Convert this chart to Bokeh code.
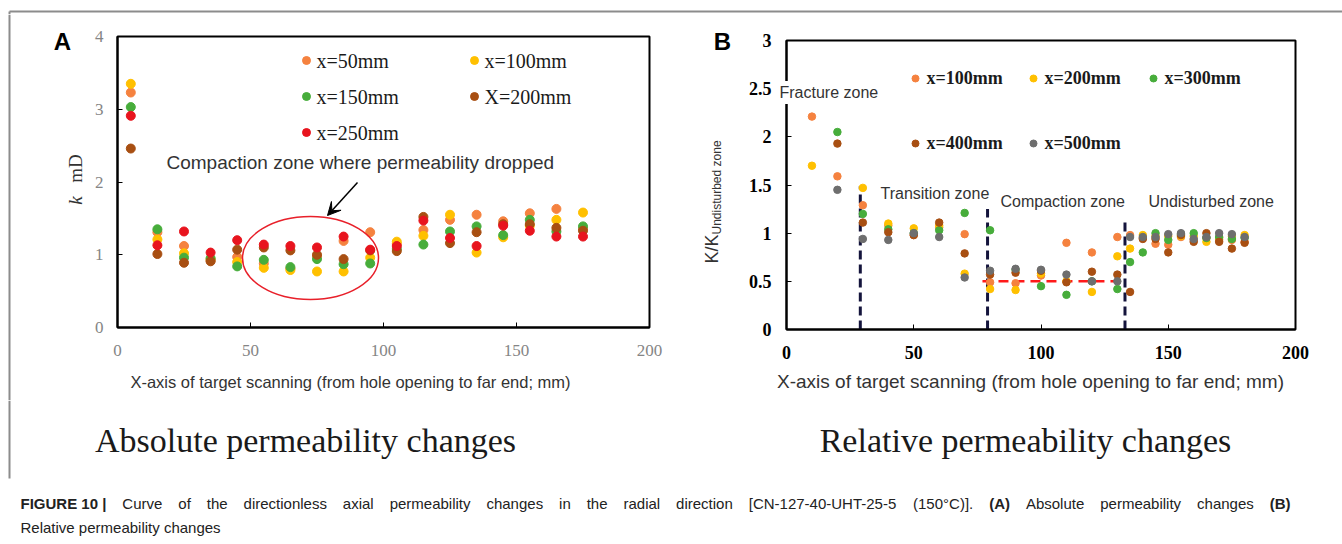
import numpy as np
from math import pi
from bokeh.plotting import figure
from bokeh.layouts import column, row
from bokeh.models import Range1d, FixedTicker, Label, Arrow, VeeHead, NumeralTickFormatter
from bokeh.core.properties import value
from bokeh.embed import file_html
from bokeh.resources import INLINE

# ---------------- data: panel A (absolute permeability, mD) ----------------
xa = [5, 15, 25, 35, 45, 55, 65, 75, 85, 95, 105, 115, 125, 135, 145, 155, 165, 175]
ka_50 = [3.23, 1.31, 1.12, 0.92, 0.97, 0.88, 0.81, 0.98, 1.19, 1.31, 1.15, 1.34, 1.48, 1.55, 1.46, 1.57, 1.63, 1.36]
ka_100 = [3.35, 1.21, 1.02, 0.94, 0.90, 0.82, 0.79, 0.77, 0.77, 0.96, 1.18, 1.26, 1.55, 1.03, 1.24, 1.40, 1.48, 1.58]
ka_150 = [3.03, 1.35, 0.96, 0.95, 0.84, 0.93, 0.83, 0.94, 0.87, 0.88, 1.08, 1.14, 1.32, 1.39, 1.27, 1.48, 1.32, 1.39]
ka_200 = [2.46, 1.01, 0.89, 0.91, 1.07, 1.10, 1.06, 1.00, 0.94, 1.06, 1.05, 1.52, 1.16, 1.31, 1.42, 1.42, 1.37, 1.33]
ka_250 = [2.91, 1.13, 1.32, 1.03, 1.20, 1.14, 1.12, 1.10, 1.25, 1.07, 1.12, 1.47, 1.23, 1.12, 1.40, 1.33, 1.25, 1.25]
labels_a = ["x=50mm", "x=100mm", "x=150mm", "X=200mm", "x=250mm"]

# ---------------- data: panel B (relative permeability) ----------------
xb = [10, 20, 30, 40, 50, 60, 70, 80, 90, 100, 110, 120, 130, 135, 140, 145, 150, 155, 160, 165, 170, 175, 180]
kb_100 = [2.21, 1.59, 1.29, 1.08, 0.98, 1.06, 0.99, 0.49, 0.48, 0.56, 0.90, 0.80, 0.96, 0.98, 0.95, 0.89, 0.88, 0.96, 0.93, 0.95, 0.93, 0.93, 0.91]
kb_200 = [1.70, None, 1.47, 1.10, 1.05, 1.08, 0.58, 0.42, 0.41, 0.58, 0.50, 0.39, 0.76, 0.84, 0.98, 0.97, 0.97, 0.97, 0.97, 0.91, 0.95, 0.97, 0.98]
kb_300 = [None, 2.05, 1.20, 1.04, 1.00, 1.03, 1.21, 1.03, 0.62, 0.45, 0.36, 0.50, 0.42, 0.70, 0.80, 1.00, 0.93, 0.99, 1.00, 0.95, 0.96, 0.94, 0.95]
kb_400 = [None, 1.93, 1.11, 1.01, 0.98, 1.11, 0.79, 0.57, 0.59, 0.61, 0.49, 0.60, 0.57, 0.39, 0.94, 0.94, 0.80, 0.98, 0.91, 1.00, 0.91, 0.84, 0.90]
kb_500 = [None, 1.45, 0.94, 0.93, 1.00, 0.96, 0.54, 0.61, 0.63, 0.62, 0.57, 0.50, 0.50, 0.96, 0.96, 0.96, 0.99, 1.00, 0.94, 0.96, 1.00, 0.99, 0.96]
labels_b = ["x=100mm", "x=200mm", "x=300mm", "x=400mm", "x=500mm"]
zone_x = [29, 79, 133]
zone_top = [1.49, 1.25, 1.15]
compaction_x = [77, 131]
compaction_y = [0.5, 0.5]
zone_names = ["Transition zone", "Compaction zone", "Undisturbed zone"]

caption_line1 = [("FIGURE 10 |", True), ("Curve", False), ("of", False), ("the", False),
                 ("directionless", False), ("axial", False), ("permeability", False), ("changes", False),
                 ("in", False), ("the", False), ("radial", False), ("direction", False),
                 ("[CN-127-40-UHT-25-5", False), ("(150°C)].", False), ("(A)", True), ("Absolute", False),
                 ("permeability", False), ("changes", False), ("(B)", True)]
caption_line2 = "Relative permeability changes"

ORANGE, YELLOW, GREEN, BROWN, RED, GRAY = "#F5823F", "#FFC000", "#47AD3B", "#A84F12", "#E8141E", "#6E6E6E"
LINE_GRAY = "#8c8c8c"
SANS, SERIF = "Liberation Sans", "Liberation Serif"

def arr(v):
    return np.array(v, dtype=float)

# pixel -> data helpers (layout only)
def ax_(px): return (px - 117) / 2.66
def ay_(py): return (327 - py) / 72.75
def bx_(px): return (px - 786) / 2.545
def by_(py): return (329 - py) / 96.33

# Arial advance widths (1/1000 em) used to justify the caption line
AW = {' ': 278, '(': 333, ')': 333, '-': 333, '.': 278, '[': 278, ']': 278, '°': 400, '|': 260}
for c in "0123456789":
    AW[c] = 556
AW.update(dict(zip("ABCDEFGHIJKLMNOPQRSTUVWXYZ",
                   [667, 667, 722, 722, 667, 611, 778, 722, 278, 500, 667, 556, 833, 722, 778, 667, 778, 722, 667, 611, 722, 667, 944, 667, 667, 611])))
AW.update(dict(zip("abcdefghijklmnopqrstuvwxyz",
                   [556, 556, 500, 556, 556, 278, 556, 556, 222, 222, 500, 222, 833, 556, 556, 556, 556, 333, 500, 278, 556, 500, 722, 500, 500, 500])))
AWB = dict(AW)
AWB.update({'A': 722, 'B': 722, 'F': 611, 'G': 778, 'I': 278, 'U': 722, 'R': 722, 'E': 667, '|': 280})

CAP_SIZE = 15
def tw(s, bold):
    t = AWB if bold else AW
    return sum(t.get(c, 556) for c in s) * CAP_SIZE / 1000.0


def blank(w, h, x0, x1, y0, y1):
    p = figure(width=w, height=h, x_range=Range1d(x0, x1), y_range=Range1d(y0, y1),
               output_backend="svg", toolbar_location=None, min_border=0,
               x_axis_location=None, y_axis_location=None)
    p.grid.visible = False
    p.outline_line_color = None
    p.title.visible = False
    return p

# ---------------- top strip (frame line) ----------------
top = blank(1342, 14, 0, 1342, 14, 0)
top.line([9, 1342], [11, 11], line_color=LINE_GRAY, line_width=2)
top.line([9, 9], [11, 14], line_color=LINE_GRAY, line_width=2)

left = blank(12, 386, 0, 12, 400, 14)
left.line([9, 9], [14, 400], line_color=LINE_GRAY, line_width=2)

# ---------------- panel A ----------------
pA = figure(width=668, height=386, x_range=Range1d(0, 200), y_range=Range1d(0, 4),
            output_backend="svg", toolbar_location=None,
            min_border_left=105, min_border_right=31, min_border_top=22, min_border_bottom=73)
pA.title.visible = False
pA.grid.visible = False
pA.outline_line_color = "black"
pA.outline_line_width = 2
pA.xaxis.ticker = FixedTicker(ticks=[0, 50, 100, 150, 200])
pA.yaxis.ticker = FixedTicker(ticks=[0, 1, 2, 3, 4])
for ax in pA.axis:
    ax.axis_line_width = 2
    ax.axis_line_color = "black"
    ax.major_tick_in = 5
    ax.major_tick_out = 0
    ax.major_tick_line_color = "black"
    ax.major_label_text_font = SERIF
    ax.major_label_text_font_size = "17px"
    ax.major_label_text_color = "#858585"
pA.xaxis.major_label_standoff = 17
pA.yaxis.major_label_standoff = 14

xa_arr = arr(xa)
for vals, col in [(ka_50, ORANGE), (ka_100, YELLOW), (ka_150, GREEN), (ka_200, BROWN), (ka_250, RED)]:
    pA.scatter(xa_arr, arr(vals), size=9, color=col)

pA.ellipse(x=[ax_(310)], y=[ay_(257.5)], width=[136 / 2.66], height=[83 / 72.75],
           fill_color=None, line_color="#E8202A", line_width=1.5)
pA.add_layout(Arrow(end=VeeHead(size=13, fill_color="black", line_color="black"),
                    x_start=ax_(357), y_start=ay_(182), x_end=ax_(327), y_end=ay_(215),
                    line_color="black", line_width=1.5))
pA.text(x=[ax_(166)], y=[ay_(162)], text=["Compaction zone where permeability dropped"],
        text_font=value(SANS), text_font_size="19px", text_color="#333333", text_baseline="middle")

lgA_dx = [306, 474, 306, 474, 306]
lgA_dy = [60, 60, 96, 96, 132]
pA.scatter([ax_(v) for v in lgA_dx], [ay_(v) for v in lgA_dy], size=8,
           color=[ORANGE, YELLOW, GREEN, BROWN, RED])
pA.text([ax_(v + 10) for v in lgA_dx], [ay_(v) for v in lgA_dy], text=labels_a,
        text_font=value(SERIF), text_font_size="20px", text_color="#1a1a1a", text_baseline="middle")

pA.add_layout(Label(x=ax_(62), y=ay_(41), text="A", text_font=SANS, text_font_style="bold",
                    text_font_size="24px", text_align="center", text_baseline="middle",
                    text_color="black"), "left")
pA.add_layout(Label(x=ax_(75), y=ay_(200), text="k", text_font=SERIF, text_font_style="italic",
                    text_font_size="19px", angle=pi / 2, text_align="center", text_baseline="middle",
                    text_color="#333333"), "left")
pA.add_layout(Label(x=ax_(75), y=ay_(168), text="mD", text_font=SERIF,
                    text_font_size="19px", angle=pi / 2, text_align="center", text_baseline="middle",
                    text_color="#333333"), "left")
pA.add_layout(Label(x=ax_(350), y=ay_(381), text="X-axis of target scanning (from hole opening to far end; mm)",
                    text_font=SANS, text_font_size="16.5px", text_align="center", text_baseline="middle",
                    text_color="#333333"), "below")

# ---------------- panel B ----------------
pB = figure(width=662, height=386, x_range=Range1d(0, 200), y_range=Range1d(0, 3),
            output_backend="svg", toolbar_location=None,
            min_border_left=106, min_border_right=47, min_border_top=26, min_border_bottom=71)
pB.title.visible = False
pB.grid.visible = False
pB.outline_line_color = "black"
pB.outline_line_width = 2
pB.xaxis.ticker = FixedTicker(ticks=[0, 50, 100, 150, 200])
pB.yaxis.ticker = FixedTicker(ticks=[0, 0.5, 1, 1.5, 2, 2.5, 3])
pB.yaxis.formatter = NumeralTickFormatter(format="0.[0]")
for ax in pB.axis:
    ax.axis_line_width = 2
    ax.axis_line_color = "black"
    ax.major_tick_in = 5
    ax.major_tick_out = 0
    ax.major_tick_line_color = "black"
    ax.major_label_text_font = SERIF
    ax.major_label_text_font_style = "bold"
    ax.major_label_text_font_size = "18px"
    ax.major_label_text_color = "black"
pB.xaxis.major_label_standoff = 16
pB.yaxis.major_label_standoff = 15

for zx, zt in zip(zone_x, zone_top):
    pB.line([zx, zx], [0, zt], line_color="#14143C", line_width=3, line_dash="9 5")
pB.line(compaction_x, compaction_y, line_color="#FF1A1A", line_width=2.5, line_dash="10 6")

xb_arr = arr(xb)
for vals, col in [(kb_100, ORANGE), (kb_200, YELLOW), (kb_300, GREEN), (kb_400, BROWN), (kb_500, GRAY)]:
    pB.scatter(xb_arr, arr(vals), size=7.5, color=col)

pB.text([bx_(880), bx_(1000), bx_(1148)], [by_(193), by_(201), by_(201)], text=zone_names,
        text_font=value(SANS), text_font_size="16px", text_color="#333333", text_baseline="middle")

lgB_dx = [915, 1033, 1153, 915, 1033]
lgB_dy = [78, 78, 78, 143, 143]
pB.scatter([bx_(v) for v in lgB_dx], [by_(v) for v in lgB_dy], size=7,
           color=[ORANGE, YELLOW, GREEN, BROWN, GRAY])
pB.text([bx_(v + 11) for v in lgB_dx], [by_(v) for v in lgB_dy], text=labels_b,
        text_font=value(SERIF), text_font_style="bold", text_font_size="18px",
        text_color="#1a1a1a", text_baseline="middle")

pB.add_layout(Label(x=bx_(776), y=by_(92), text="Fracture zone", text_font=SANS,
                    text_font_size="16px", text_color="#333333", text_baseline="middle",
                    background_fill_color="white", padding=3), "above")
pB.add_layout(Label(x=bx_(722), y=by_(41), text="B", text_font=SANS, text_font_style="bold",
                    text_font_size="24px", text_align="center", text_baseline="middle",
                    text_color="black"), "left")
pB.add_layout(Label(x=bx_(711), y=by_(263), text="K/K", text_font=SANS,
                    text_font_size="18px", angle=pi / 2, text_align="left", text_baseline="middle",
                    text_color="#333333"), "left")
pB.add_layout(Label(x=bx_(716), y=by_(234), text="Undisturbed zone", text_font=SANS,
                    text_font_size="12px", angle=pi / 2, text_align="left", text_baseline="middle",
                    text_color="#333333"), "left")
pB.add_layout(Label(x=bx_(1030), y=by_(381), text="X-axis of target scanning (from hole opening to far end; mm)",
                    text_font=SANS, text_font_size="19px", text_align="center", text_baseline="middle",
                    text_color="#333333"), "below")

# ---------------- bottom: subtitles + caption ----------------
bot = blank(1342, 144, 0, 1342, 544, 400)
bot.line([9, 9], [400, 478], line_color=LINE_GRAY, line_width=2)
bot.text([305, 1025], [440, 440], text=["Absolute permeability changes", "Relative permeability changes"],
         text_font=value(SERIF), text_font_size="34px", text_color="#1a1a1a",
         text_align="center", text_baseline="middle")

# justified first caption line
widths = [tw(w, b) for w, b in caption_line1]
gap = (1290 - 20 - sum(widths)) / (len(caption_line1) - 1)
xs, pos = [], 20.0
for wd in widths:
    xs.append(pos)
    pos += wd + gap
bold_idx = [i for i, (w, b) in enumerate(caption_line1) if b]
norm_idx = [i for i, (w, b) in enumerate(caption_line1) if not b]
bot.text([xs[i] for i in bold_idx], [503] * len(bold_idx), text=[caption_line1[i][0] for i in bold_idx],
         text_font=value(SANS), text_font_style="bold", text_font_size=f"{CAP_SIZE}px",
         text_color="#222222", text_baseline="middle")
bot.text([xs[i] for i in norm_idx] + [20], [503] * len(norm_idx) + [527],
         text=[caption_line1[i][0] for i in norm_idx] + [caption_line2],
         text_font=value(SANS), text_font_size=f"{CAP_SIZE}px",
         text_color="#222222", text_baseline="middle")

layout = column(top, row(column(left), column(pA), column(pB)), bot)
open("out.html", "w").write(file_html(layout, INLINE))
